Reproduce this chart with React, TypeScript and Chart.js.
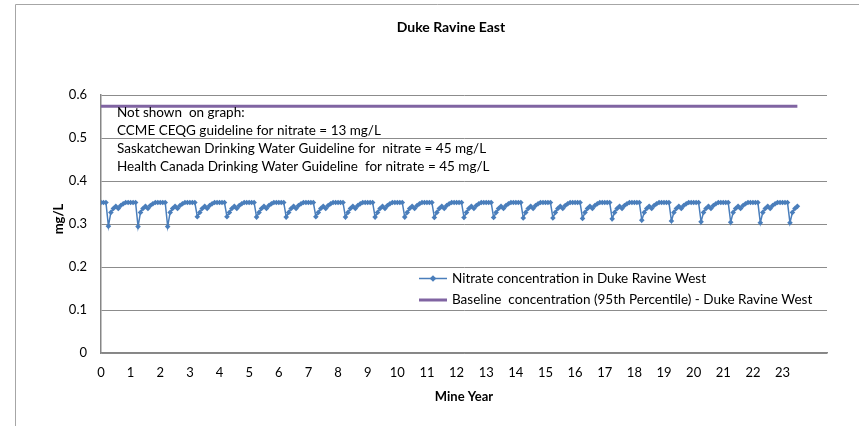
import React, { useEffect, useRef } from "react";
import { Chart, registerables } from "chart.js";

Chart.register(...registerables);

const chartTitle = "Duke Ravine East";
const yAxisTitle = "mg/L";
const xAxisTitle = "Mine Year";
const seriesLabels = [
  "Nitrate concentration in Duke Ravine West",
  "Baseline  concentration (95th Percentile) - Duke Ravine West",
];
const noteLines = [
  "Not shown  on graph:",
  "CCME CEQG guideline for nitrate = 13 mg/L",
  "Saskatchewan Drinking Water Guideline for  nitrate = 45 mg/L",
  "Health Canada Drinking Water Guideline  for nitrate = 45 mg/L",
];

// Mine years with monthly samples
const mineYears = [0, 1, 2, 3, 4, 5, 6, 7, 8, 9, 10, 11, 12, 13, 14, 15, 16, 17, 18, 19, 20, 21, 22, 23];
const monthsOfYear = [0, 1, 2, 3, 4, 5, 6, 7, 8, 9, 10, 11];
const monthsInLastYear = 7;
const dipMonth = 3;
// typical within-year values (mg/L); month 3 is the annual low
const withinYearValues = [0.35, 0.35, 0.35, 0.3, 0.327, 0.336, 0.341, 0.336, 0.343, 0.347, 0.35, 0.35];
// annual low (mg/L) per mine year
const annualLowValues = [
  0.295, 0.294, 0.294, 0.317, 0.317, 0.316, 0.316, 0.317, 0.316, 0.316, 0.316, 0.315,
  0.315, 0.315, 0.314, 0.314, 0.313, 0.312, 0.309, 0.307, 0.305, 0.304, 0.303, 0.303,
];
const baselineValue = 0.574;
const baselineSpan = [0, 23.5];

const yTicks = { min: 0, max: 0.6, step: 0.1 };
const xTicks = { min: 0, max: 24.5, step: 1, lastLabel: 23 };

const BLUE = "#4A7EBB";
const PURPLE = "#8064A2";
const FONT = "Lato";

function buildNitrate() {
  const pts: { x: number; y: number }[] = [];
  mineYears.forEach((yr, yi) => {
    monthsOfYear.forEach((m) => {
      if (yi === mineYears.length - 1 && m >= monthsInLastYear) return;
      const v = m === dipMonth ? annualLowValues[yi] : withinYearValues[m];
      pts.push({ x: yr + m / 12, y: v });
    });
  });
  return pts;
}

const decorPlugin = {
  id: "decor",
  beforeDraw(chart: any) {
    const ctx = chart.ctx;
    ctx.save();
    ctx.fillStyle = "#ffffff";
    ctx.fillRect(0, 0, chart.width, chart.height);
    ctx.strokeStyle = "#a6a6a6";
    ctx.lineWidth = 1;
    ctx.beginPath();
    ctx.moveTo(15.5, chart.height);
    ctx.lineTo(15.5, 4.5);
    ctx.lineTo(chart.width, 4.5);
    ctx.stroke();
    ctx.restore();
  },
  afterDraw(chart: any) {
    const ctx = chart.ctx;
    const ds = chart.data.datasets;
    ctx.save();
    ctx.fillStyle = "#000";
    ctx.textBaseline = "middle";
    // title
    ctx.font = `bold 14px ${FONT}`;
    ctx.textAlign = "center";
    ctx.fillText(chartTitle, 451, 27);
    // x axis title
    ctx.font = `bold 13px ${FONT}`;
    ctx.fillText(xAxisTitle, 464, 397);
    // y axis title
    ctx.save();
    ctx.translate(59, 219);
    ctx.rotate(-Math.PI / 2);
    ctx.fillText(yAxisTitle, 0, 0);
    ctx.restore();
    // notes
    ctx.font = `13.5px ${FONT}`;
    ctx.textAlign = "left";
    const noteY = [113, 131, 149, 166.5];
    noteLines.forEach((t, i) => ctx.fillText(t, 117, noteY[i]));
    // legend
    const legY = [278.5, 300];
    const lx0 = 419, lx1 = 447;
    ds.forEach((d: any, i: number) => {
      ctx.strokeStyle = d.borderColor;
      ctx.lineWidth = d.borderWidth;
      ctx.beginPath();
      ctx.moveTo(lx0, legY[i]);
      ctx.lineTo(lx1, legY[i]);
      ctx.stroke();
      if (d.pointRadius > 0) {
        const r = d.pointRadius + 0.5;
        const cx = (lx0 + lx1) / 2;
        ctx.fillStyle = d.borderColor;
        ctx.beginPath();
        ctx.moveTo(cx, legY[i] - r);
        ctx.lineTo(cx + r, legY[i]);
        ctx.lineTo(cx, legY[i] + r);
        ctx.lineTo(cx - r, legY[i]);
        ctx.closePath();
        ctx.fill();
      }
      ctx.fillStyle = "#000";
      ctx.fillText(seriesLabels[i], 452, legY[i]);
    });
    ctx.restore();
  },
};

export default function App() {
  const ref = useRef<HTMLCanvasElement | null>(null);
  useEffect(() => {
    if (!ref.current) return;
    const chart = new Chart(ref.current, {
      type: "line",
      data: {
        datasets: [
          {
            label: seriesLabels[0],
            data: buildNitrate(),
            borderColor: BLUE,
            backgroundColor: BLUE,
            borderWidth: 1.5,
            pointStyle: "rectRot",
            pointRadius: 2.8,
            pointBorderWidth: 0,
            pointBackgroundColor: BLUE,
            tension: 0,
          },
          {
            label: seriesLabels[1],
            data: baselineSpan.map((x) => ({ x, y: baselineValue })),
            borderColor: PURPLE,
            backgroundColor: PURPLE,
            borderWidth: 3,
            pointRadius: 0,
          },
        ],
      },
      options: {
        animation: false,
        responsive: false,
        maintainAspectRatio: false,
        layout: { padding: { top: 95, right: 32, left: 0, bottom: 0 } },
        plugins: {
          legend: { display: false },
          title: { display: false },
          tooltip: { enabled: false },
        },
        scales: {
          x: {
            type: "linear",
            min: xTicks.min,
            max: xTicks.max,
            ticks: {
              stepSize: xTicks.step,
              autoSkip: false,
              maxRotation: 0,
              padding: 12,
              color: "#000",
              font: { family: FONT, size: 13 },
              callback: (v: any) =>
                Number.isInteger(v) && v <= xTicks.lastLabel ? String(v) : "",
            },
            grid: { display: false, drawTicks: false },
            border: { display: true, color: "#868686", width: 1.5 },
            afterFit: (s: any) => {
              s.height = 73;
            },
          },
          y: {
            min: yTicks.min,
            max: yTicks.max,
            ticks: {
              stepSize: yTicks.step,
              padding: 14,
              color: "#000",
              font: { family: FONT, size: 13 },
            },
            grid: { color: "#8c8c8c", lineWidth: 1, drawTicks: false },
            border: { display: true, color: "#868686", width: 1.5 },
            afterFit: (s: any) => {
              s.width = 101;
            },
          },
        },
      } as any,
      plugins: [decorPlugin],
    });
    return () => chart.destroy();
  }, []);
  return (
    <div style={{ position: "fixed", left: 0, top: 0, width: 859, height: 426, background: "#fff" }}>
      <canvas ref={ref} width={859} height={426} style={{ display: "block" }} />
    </div>
  );
}
